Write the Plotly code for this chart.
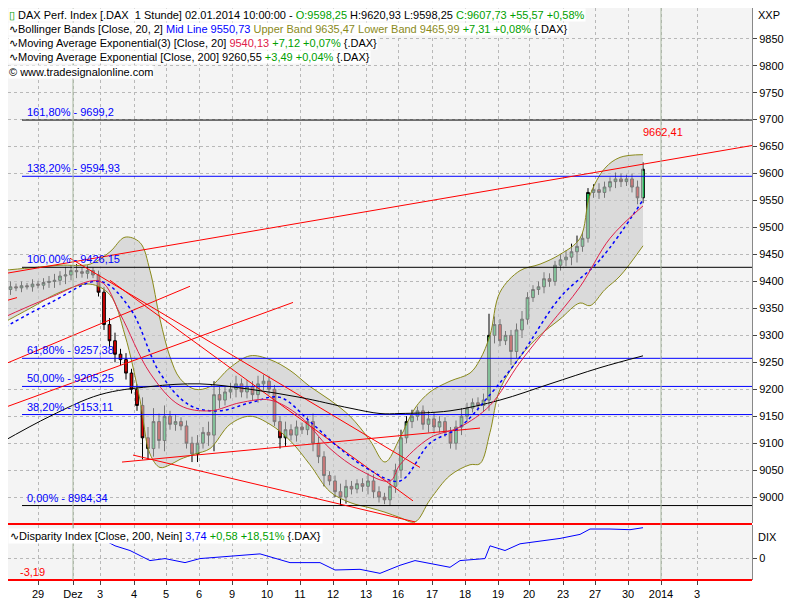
import plotly.graph_objects as go

# ---- data ----
closes = [9385, 9390, 9388, 9392, 9390, 9395, 9393, 9398, 9400, 9402,
          9410, 9412, 9420, 9418, 9415, 9420, 9412, 9380, 9320, 9290,
          9265, 9255, 9230, 9200, 9170, 9110, 9090, 9140, 9105, 9150,
          9135, 9140, 9132, 9100, 9080, 9100, 9120, 9115, 9190, 9180,
          9195, 9200, 9210, 9195, 9205, 9190, 9210, 9215, 9200, 9140,
          9110, 9125, 9115, 9130, 9125, 9140, 9100, 9075, 9040, 9030,
          9010, 9000, 9020, 9015, 9025, 9020, 9030, 9010, 9000, 8995,
          9020, 9050, 9110, 9140, 9150, 9160, 9135, 9145, 9130, 9140,
          9120, 9100, 9130, 9150, 9165, 9175, 9170, 9180, 9300, 9320,
          9290, 9300, 9270, 9310, 9330, 9370, 9385, 9390, 9405, 9400,
          9430, 9440, 9445, 9455, 9465, 9480, 9565, 9570, 9565, 9575,
          9585, 9590, 9585, 9590, 9575, 9555, 9608]
opens = [9380] + closes[:-1]
wick_up = [8, 10, 6, 8, 5, 9, 6, 8, 10, 12, 9, 15, 10, 12, 8, 10, 6, 8, 10, 12,
           15, 10, 12, 8, 10, 15, 20, 25, 15, 20, 10, 12, 8, 10, 12, 15, 10, 20, 25, 15,
           10, 12, 15, 10, 12, 10, 15, 12, 10, 8, 10, 15, 10, 12, 8, 10, 15, 12, 10, 8,
           10, 15, 12, 10, 8, 10, 15, 12, 10, 8, 10, 12, 15, 10, 12, 8, 10, 15, 12, 10,
           8, 10, 12, 15, 10, 8, 10, 12, 40, 15, 10, 8, 10, 12, 15, 10, 8, 10, 12, 10,
           8, 10, 12, 15, 20, 10, 8, 10, 12, 10, 8, 12, 10, 8, 10, 12, 13]
wick_dn = [8, 10, 6, 8, 5, 9, 6, 8, 10, 12, 9, 15, 10, 12, 8, 10, 6, 8, 10, 12,
           15, 10, 12, 8, 10, 40, 20, 15, 15, 20, 10, 12, 8, 10, 15, 15, 10, 20, 30, 15,
           10, 12, 15, 10, 12, 10, 15, 12, 10, 8, 20, 15, 10, 12, 8, 10, 15, 12, 20, 8,
           10, 15, 12, 10, 8, 10, 15, 12, 10, 8, 10, 12, 15, 10, 12, 8, 10, 15, 12, 10,
           8, 10, 12, 15, 10, 8, 10, 12, 20, 15, 10, 8, 25, 12, 15, 10, 8, 10, 12, 10,
           8, 10, 12, 15, 20, 10, 8, 10, 12, 10, 8, 12, 10, 8, 10, 12, 10]
highs = [max(o, c) + w for o, c, w in zip(opens, closes, wick_up)]
lows = [min(o, c) - w for o, c, w in zip(opens, closes, wick_dn)]
bar_x = [5 + 5.5 * i for i in range(len(closes))]

band_x = [0, 30, 60, 90, 110, 125, 140, 150, 160, 170, 180, 195, 210, 230, 250, 270, 290, 310,
          330, 350, 370, 385, 400, 415, 430, 450, 470, 480, 490, 500, 520, 540, 560, 580, 590,
          605, 620, 643]
upper = [9420, 9425, 9430, 9432, 9455, 9482, 9472, 9420, 9330, 9260, 9220, 9200, 9205, 9240,
         9262, 9255, 9235, 9205, 9180, 9150, 9105, 9065, 9110, 9165, 9195, 9215, 9230, 9255,
         9300, 9380, 9420, 9432, 9450, 9480, 9560, 9610, 9630, 9635]
lower = [9320, 9350, 9380, 9395, 9375, 9300, 9180, 9080, 9055, 9060, 9070, 9080, 9090, 9135,
         9150, 9135, 9105, 9060, 9010, 8990, 8980, 8972, 8962, 8954, 8995, 9040, 9060, 9062,
         9120, 9200, 9260, 9300, 9330, 9360, 9355, 9385, 9410, 9466]

ema_x = [0, 50, 100, 120, 150, 180, 210, 240, 270, 300, 330, 360, 390, 400, 430, 460, 490,
         520, 550, 580, 610, 643]
ema20 = [9330, 9370, 9400, 9340, 9230, 9170, 9160, 9175, 9180, 9150, 9090, 9050, 9030, 9060,
         9110, 9130, 9170, 9250, 9320, 9390, 9480, 9540]
mid_x = [0, 50, 100, 130, 160, 190, 220, 250, 280, 310, 340, 370, 400, 430, 460, 490, 520,
         560, 600, 643]
midline = [9310, 9360, 9400, 9350, 9230, 9170, 9160, 9175, 9185, 9140, 9090, 9050, 9030,
           9100, 9130, 9190, 9260, 9370, 9440, 9551]
ma_x = [0, 50, 100, 150, 200, 250, 300, 350, 380, 400, 450, 500, 550, 600, 643]
ma200 = [9100, 9150, 9190, 9205, 9210, 9200, 9185, 9165, 9155, 9155, 9160, 9180, 9210, 9240,
         9262]

fib_levels = [9699.2, 9594.93, 9426.15, 9257.38, 9205.25, 9153.11, 8984.34]
fib_labels = ["161,80% - 9699,2", "138,20% - 9594,93", "100,00% - 9426,15", "61,80% - 9257,38",
              "50,00% - 9205,25", "38,20% - 9153,11", "0,00% - 8984,34"]
fib_colors = ["black", "blue", "black", "blue", "blue", "blue", "black"]

# trend lines: (x0, price0, x1, price1)
trend_lines = [(0, 9413, 752, 9652), (70, 9443, 420, 9055), (110, 9402, 413, 8993),
               (122, 9065, 480, 9128), (133, 9078, 415, 8954), (0, 9243, 190, 9391),
               (0, 9163, 293, 9361), (0, 9361, 17, 9370)]

dix_x = [97, 115, 130, 150, 165, 185, 200, 230, 260, 290, 320, 335, 360, 380, 400, 415, 430,
         450, 460, 485, 490, 505, 520, 540, 560, 580, 590, 610, 630, 643]
dix = [3.3, 1.9, 1.2, -0.3, 0.0, -0.6, 0.0, 0.3, 0.7, -0.6, -0.6, -1.7, -1.6, -2.2, -1.0,
       -0.3, -0.7, -1.3, -0.3, 0.0, 1.9, 1.2, 2.2, 2.6, 3.0, 3.6, 4.4, 4.4, 4.3, 4.6]

price_ticks = list(range(9000, 9851, 50))
tick_pos = [38, 73, 100, 134, 166, 199, 232, 267, 300, 333, 366, 398, 432, 465, 498, 529,
            563, 595, 628, 661, 697]
tick_text = ["29", "Dez", "3", "4", "5", "6", "9", "10", "11", "12", "13", "16", "17", "18",
             "19", "20", "23", "27", "30", "2014", "3"]

# ---- figure ----
fig = go.Figure()
fig.add_trace(go.Scatter(x=band_x, y=upper, mode="lines", line=dict(color="#8a8a1a", width=1, shape="spline"),
                         showlegend=False, hoverinfo="skip"))
fig.add_trace(go.Scatter(x=band_x, y=lower, mode="lines", line=dict(color="#8a8a1a", width=1, shape="spline"),
                         fill="tonexty", fillcolor="rgba(200,200,200,0.6)", showlegend=False, hoverinfo="skip"))

for lvl, col in zip(fib_levels, fib_colors):
    fig.add_trace(go.Scatter(x=[22, 752], y=[lvl, lvl], mode="lines", line=dict(color=col, width=1),
                             showlegend=False, hoverinfo="skip"))

for x0, p0, x1, p1 in trend_lines:
    fig.add_trace(go.Scatter(x=[x0, x1], y=[p0, p1], mode="lines", line=dict(color="red", width=1),
                             showlegend=False, hoverinfo="skip"))

fig.add_trace(go.Scatter(x=ma_x, y=ma200, mode="lines", line=dict(color="black", width=1, shape="spline"),
                         showlegend=False))
fig.add_trace(go.Scatter(x=mid_x, y=midline, mode="lines", line=dict(color="blue", width=1.5, dash="dot", shape="spline"),
                         showlegend=False))
fig.add_trace(go.Scatter(x=ema_x, y=ema20, mode="lines", line=dict(color="#e0204a", width=1, shape="spline"),
                         showlegend=False))

fig.add_trace(go.Candlestick(x=bar_x, open=opens, high=highs, low=lows, close=closes,
                             increasing=dict(line=dict(color="black", width=1), fillcolor="#20d060"),
                             decreasing=dict(line=dict(color="black", width=1), fillcolor="#e00000"),
                             whiskerwidth=0, showlegend=False))

fig.add_trace(go.Scatter(x=dix_x, y=dix, mode="lines", line=dict(color="blue", width=1),
                         xaxis="x2", yaxis="y2", showlegend=False))

# page has an 8px body margin; figure covers page pixels 8..800 x 8..600
H = 572
grid = dict(showgrid=True, gridcolor="#b8b8b8", griddash="dot", gridwidth=1)
fig.update_layout(
    width=792, height=592, margin=dict(l=0, r=48, t=0, b=20),
    paper_bgcolor="white", plot_bgcolor="#f4f4f4",
    font=dict(family="Liberation Sans", size=11, color="black"),
    xaxis=dict(range=[8, 752], domain=[0, 1], showticklabels=False, rangeslider=dict(visible=False),
               tickvals=tick_pos, zeroline=False, **grid),
    yaxis=dict(range=[8952, 9907], domain=[(580 - 523) / H, 1], side="right", tickvals=price_ticks,
               tickformat="d", ticks="outside", ticklen=4, zeroline=False, showline=True,
               linecolor="#888", **grid),
    xaxis2=dict(range=[8, 752], domain=[0, 1], anchor="y2", tickvals=tick_pos, ticktext=tick_text,
                ticks="outside", ticklen=4, zeroline=False, **grid),
    yaxis2=dict(range=[-3.19, 5.0], domain=[0.0, (580 - 525) / H], side="right", tickvals=[0],
                ticktext=["0"], ticks="outside", ticklen=4, zeroline=False, showline=True,
                linecolor="#888", **grid),
)

shapes = [
    dict(type="line", xref="paper", yref="paper", x0=0, x1=1, y0=(580 - 524) / H, y1=(580 - 524) / H,
         line=dict(color="red", width=2)),
    dict(type="line", xref="paper", yref="paper", x0=0, x1=1, y0=0.0, y1=0.0, line=dict(color="red", width=2)),
    dict(type="line", xref="x", yref="paper", x0=73, x1=73, y0=0, y1=1, line=dict(color="#a8b8a0", width=1)),
    dict(type="line", xref="x", yref="paper", x0=661, x1=661, y0=0, y1=1, line=dict(color="#a8b8a0", width=1)),
]
fig.update_layout(shapes=shapes)


def py(page_y):
    return (580 - page_y) / H


ann = []
for lvl, lab in zip(fib_levels, fib_labels):
    ann.append(dict(x=25, y=lvl, xref="x", yref="y", text=lab, showarrow=False, xanchor="left",
                    yanchor="bottom", font=dict(color="blue", size=11)))
ann.append(dict(x=641, y=9662, xref="x", yref="y", text="9662,41", showarrow=False, xanchor="left",
                yanchor="bottom", font=dict(color="red", size=11)))

header = [
    "<span style='color:#00a000'>▯</span> DAX Perf. Index [.DAX  1 Stunde] 02.01.2014 10:00:00 - "
    "<span style='color:#00a000'>O:9598,25</span> H:9620,93 L:9598,25 "
    "<span style='color:#00a000'>C:9607,73 +55,57 +0,58%</span>",
    "∿Bollinger Bands [Close, 20, 2] <span style='color:blue'>Mid Line 9550,73</span> "
    "<span style='color:#8a8a1a'>Upper Band 9635,47 Lower Band 9465,99</span> "
    "<span style='color:#00a000'>+7,31 +0,08%</span> {.DAX}",
    "∿Moving Average Exponential(3) [Close, 20] <span style='color:#e0204a'>9540,13</span> "
    "<span style='color:#00a000'>+7,12 +0,07%</span> {.DAX}",
    "∿Moving Average Exponential [Close, 200] 9260,55 <span style='color:#00a000'>+3,49 +0,04%</span> {.DAX}",
    "© www.tradesignalonline.com",
]
header_y = [15, 29, 43, 57, 72]
for t, yc in zip(header, header_y):
    ann.append(dict(x=0.0, y=py(yc), xref="paper", yref="paper", text=t, showarrow=False,
                    xanchor="left", yanchor="middle", bgcolor="white", font=dict(size=11), borderpad=0))
ann.append(dict(x=0.0, y=py(536), xref="paper", yref="paper", showarrow=False, xanchor="left",
                yanchor="middle", bgcolor="white", font=dict(size=11),
                text="∿Disparity Index [Close, 200, Nein] <span style='color:blue'>3,74</span> "
                     "<span style='color:#00a000'>+0,58 +18,51%</span> {.DAX}"))
ann.append(dict(x=18, y=-3.19, xref="x2", yref="y2", text="-3,19", showarrow=False, xanchor="left",
                yanchor="bottom", font=dict(color="red", size=11)))
ann.append(dict(x=1.006, y=py(15), xref="paper", yref="paper", text="XXP", showarrow=False,
                xanchor="left", yanchor="middle", font=dict(size=11)))
ann.append(dict(x=1.006, y=py(537), xref="paper", yref="paper", text="DIX", showarrow=False,
                xanchor="left", yanchor="middle", font=dict(size=11)))
fig.update_layout(annotations=ann)

fig.write_html("out.html")
